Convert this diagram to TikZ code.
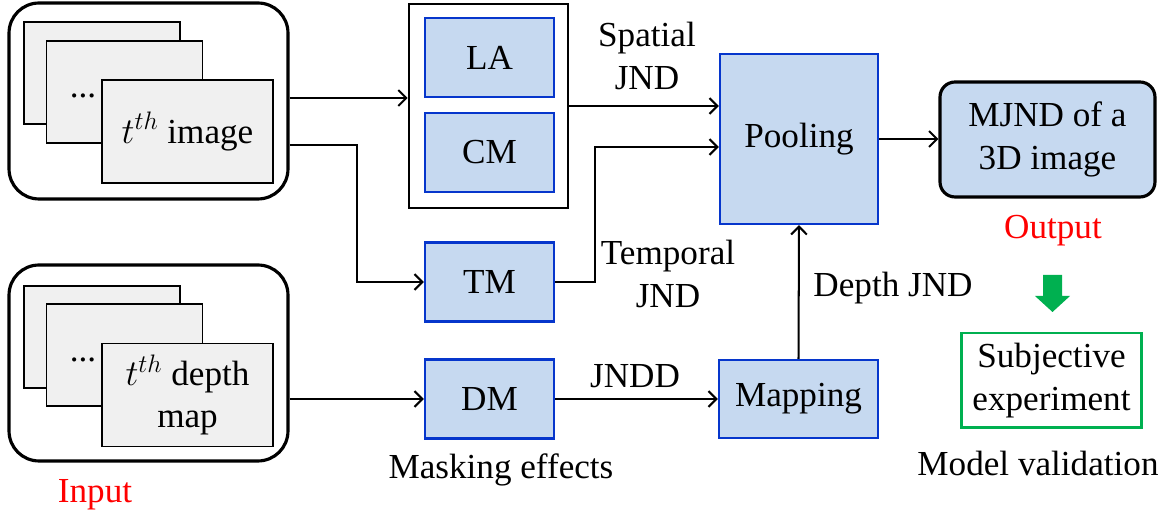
\documentclass[tikz,border=0pt]{standalone}
\usepackage{amsmath}
\usepackage{fontspec}
\newfontfamily\diagfont{Liberation Serif}
\usetikzlibrary{calc}
\usetikzlibrary{arrows.meta}

\definecolor{boxblue}{HTML}{C6D9F0}
\definecolor{lineblue}{HTML}{0636CC}
\definecolor{framegray}{HTML}{F0F0F0}
\definecolor{valgreen}{HTML}{00B050}

\begin{document}
\begin{tikzpicture}[x=0.02cm, y=-0.02cm,
  every node/.style={font=\diagfont\fontsize{20}{24}\selectfont},
  mod/.style={draw=lineblue, fill=boxblue, line width=1.4pt, minimum width=2.58cm, minimum height=1.58cm},
  frame/.style={draw, fill=framegray, line width=1.1pt, minimum width=3.12cm, minimum height=2.04cm},
  holder/.style={draw, fill=white, line width=1.8pt, rounded corners=0.6cm, minimum width=5.58cm, minimum height=3.92cm},
  link/.style={-{Straight Barb[length=4.5pt,width=9pt]}, line width=1.15pt}]
  \useasboundingbox (0,0) rectangle (1171,519);

  % input: image sequence
  \node[holder] (imgin) at (148.5,101) {};
  \node[frame] (imgback) at (102,73) {};
  \node[frame] (imgmid) at (124.5,92) {};
  \node[frame, minimum width=3.42cm, minimum height=2.06cm] (imgfront) at (187.5,131.5) {$t^{th}$ image};
  \node (imgdots) at (83,96) {...};

  % input: depth map sequence
  \node[holder] (depthin) at (148.5,363) {};
  \node[frame] (depthback) at (102,337) {};
  \node[frame] (depthmid) at (124.5,355) {};
  \node[frame, minimum width=3.42cm, minimum height=2.06cm, align=center] (depthfront) at (187.5,395) {$t^{th}$ depth\\map};
  \node (depthdots) at (83,360) {...};

  \node[text=red] (inlabel) at (95,495) {Input};

  % masking effects
  \node[draw, line width=1.5pt, minimum width=3.18cm, minimum height=4.08cm] (lacm) at (488.5,106) {};
  \node[mod] (la) at (489.5,57.5) {LA};
  \node[mod] (cm) at (489.5,152.5) {CM};
  \node[mod] (tm) at (489.5,282) {TM};
  \node[mod] (dm) at (489.5,399) {DM};
  \node (masklabel) at (501,470) {Masking effects};

  \node[mod, minimum width=3.16cm, minimum height=3.4cm] (pool) at (799,139) {Pooling};
  \node[mod, minimum width=3.18cm, minimum height=1.56cm] (map) at (798.5,399) {Mapping};

  \node[draw, fill=boxblue, line width=1.8pt, rounded corners=0.3cm, minimum width=4.3cm, minimum height=2.3cm, align=center] (mjnd) at (1047.5,139.5) {MJND of a\\3D image};
  \node[text=red] (outlabel) at (1053,231) {Output};

  \node[draw=valgreen, line width=1.7pt, minimum width=3.62cm, minimum height=1.9cm, align=center] (subj) at (1051.5,380.5) {Subjective\\experiment};
  \node (vallabel) at (1038,463) {Model validation};

  % connectors
  \coordinate (imgout) at ($(imgin.east)+(0,-3)$);
  \coordinate (imgout2) at ($(imgin.east)+(0,44)$);
  \coordinate (tmbend) at (357,0);
  \coordinate (tjbend) at (595,147);

  \draw[link] (imgout) -- (imgout -| lacm.west);
  \draw[link] (imgout2) -| (tmbend |- tm.west) -- (tm.west);
  \draw[link] (depthin.east |- dm.west) -- (dm.west);

  \draw[link] (lacm.east) -- (lacm.east -| pool.west);
  \draw[link] (tm.east) -| (tjbend) -- (tjbend -| pool.west);
  \draw[link] (dm.east) -- (map.west);
  \draw[link] (map.north) -- (pool.south);
  \draw[link] (pool.east) -- (pool.east -| mjnd.west);

  \node[align=center] (spatlabel) at (647,56) {Spatial\\JND};
  \node[align=center] (templabel) at (668,274) {Temporal\\JND};
  \node (jnddlabel) at (635,376) {JNDD};
  \node (depthlabel) at (893,288) {Depth JND};

  % validation arrow
  \fill[valgreen] (1043,275) -- (1062,275) -- (1062,296) -- (1070,296) -- (1052.5,312) -- (1035,296) -- (1043,296) -- cycle;
\end{tikzpicture}
\end{document}
